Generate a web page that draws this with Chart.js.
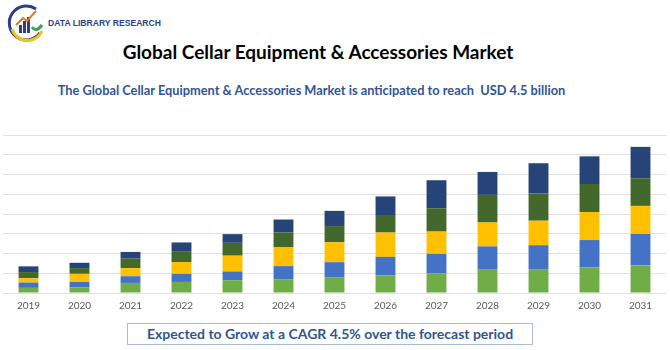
<!DOCTYPE html>
<html>
<head>
<meta charset="utf-8">
<script src="https://cdn.jsdelivr.net/npm/chart.js@4"></script>
<style>
  body { margin: 0; width: 670px; height: 350px; background: #fff; position: relative; overflow: hidden; font-family: Lato, "Open Sans", sans-serif; }
  .logo { position: absolute; left: 6px; top: 3px; }
  .brand { position: absolute; left: 48px; top: 18px; font: bold 8.6px "Liberation Sans", sans-serif; color: #2b3f8c; }
  .title { position: absolute; left: 0; width: 636px; top: 40px; text-align: center; font: bold 19px Lato, sans-serif; color: #000; }
  .subtitle { position: absolute; left: 0; width: 623px; top: 82px; text-align: center; font: bold 12.8px Lato, sans-serif; color: #2f5597; white-space: pre; }
  .chart { position: absolute; left: 0; top: 120px; width: 670px; height: 204px; }
  .footer { position: absolute; left: 127px; top: 323px; width: 404px; height: 20px; border: 1px solid #a9bcd9; text-align: center; font: bold 14px/20px Lato, sans-serif; color: #2f5597; background: #fff; }
</style>
</head>
<body>
<svg class="logo" width="40" height="40" viewBox="0 0 40 40">
  <path d="M30 6 A17 17 0 1 0 34 30" fill="none" stroke="#2b3f8c" stroke-width="3"/>
  <path d="M6 26 A16 16 0 0 0 36 28" fill="none" stroke="#f2c21b" stroke-width="3"/>
  <rect x="13" y="22" width="3" height="8" fill="#2b3f8c"/>
  <rect x="17" y="18" width="3" height="12" fill="#2b3f8c"/>
  <rect x="21" y="14" width="3" height="16" fill="#2b3f8c"/>
  <path d="M10 22 L17 15 L21 18 L30 8" fill="none" stroke="#e87722" stroke-width="2"/>
  <path d="M26 24 Q30 30 36 22" fill="none" stroke="#3aa04a" stroke-width="3"/>
</svg>
<div class="brand">DATA LIBRARY RESEARCH</div>
<div class="title">Global Cellar Equipment &amp; Accessories Market</div>
<div class="subtitle">The Global Cellar Equipment &amp; Accessories Market is anticipated to reach  USD 4.5 billion</div>
<div class="chart"><canvas id="myChart"></canvas></div>
<div class="footer">Expected to Grow at a CAGR 4.5% over the forecast period</div>
<script>
const years = ['2019', '2020', '2021', '2022', '2023', '2024', '2025', '2026', '2027', '2028', '2029', '2030', '2031'];

// segment values, bottom to top
const seriesA = [0.26, 0.29, 0.51, 0.56, 0.65, 0.68, 0.78, 0.89, 0.99, 1.18, 1.21, 1.30, 1.40];
const seriesB = [0.27, 0.27, 0.34, 0.41, 0.44, 0.68, 0.78, 0.94, 0.99, 1.18, 1.21, 1.38, 1.59];
const seriesC = [0.22, 0.41, 0.41, 0.60, 0.80, 0.97, 1.01, 1.23, 1.13, 1.21, 1.24, 1.42, 1.42];
const seriesD = [0.31, 0.29, 0.48, 0.55, 0.65, 0.73, 0.82, 0.89, 1.18, 1.40, 1.38, 1.42, 1.40];
const seriesE = [0.29, 0.27, 0.34, 0.44, 0.44, 0.66, 0.77, 0.94, 1.42, 1.16, 1.53, 1.40, 1.59];

const colors = ['#70ad47', '#4472c4', '#ffc000', '#43682b', '#264478'];

const ctx = document.getElementById('myChart').getContext('2d');
const myChart = new Chart(ctx, {
    type: 'bar',
    data: {
        labels: years,
        datasets: [seriesA, seriesB, seriesC, seriesD, seriesE].map((d, i) => ({
            label: 'S' + (i + 1),
            data: d,
            backgroundColor: colors[i],
            borderWidth: 0,
            categoryPercentage: 1,
            barPercentage: 0.39
        }))
    },
    options: {
        responsive: true,
        maintainAspectRatio: false,
        animation: false,
        layout: { padding: { top: 15, bottom: 5, left: 3, right: 4 } },
        plugins: {
            legend: { display: false },
            tooltip: { enabled: false }
        },
        scales: {
            x: {
                stacked: true,
                grid: { display: false, drawTicks: false },
                border: { display: false },
                ticks: { color: '#595959', font: { family: 'Lato', size: 10 }, padding: 7 }
            },
            y: {
                stacked: true,
                min: 0,
                max: 8,
                ticks: { display: false, stepSize: 1 },
                grid: { color: '#e0e0e0', lineWidth: 1, drawTicks: false },
                border: { display: false }
            }
        }
    }
});
</script>
</body>
</html>
